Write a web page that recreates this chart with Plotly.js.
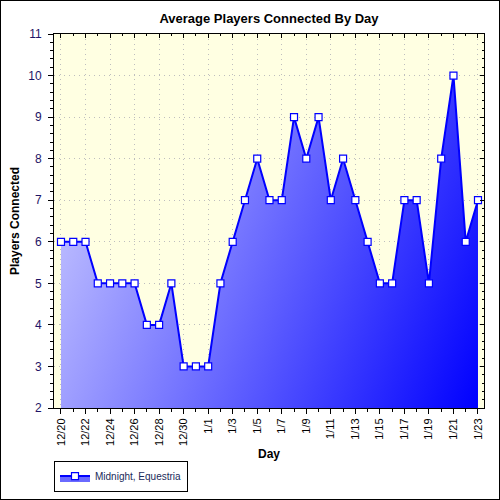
<!DOCTYPE html>
<html>
<head>
<meta charset="utf-8">
<script src="https://cdn.plot.ly/plotly-3.0.1.min.js"></script>
<style>
  body { margin: 0; background: #fff; }
  #chart { width: 498px; height: 498px; border: 1px solid #000; }
</style>
</head>
<body>
<div id="chart"></div>
<script>
// days shown on the x axis
var days = ['12/20','12/21','12/22','12/23','12/24','12/25','12/26','12/27','12/28','12/29','12/30','12/31',
            '1/1','1/2','1/3','1/4','1/5','1/6','1/7','1/8','1/9','1/10','1/11','1/12','1/13','1/14',
            '1/15','1/16','1/17','1/18','1/19','1/20','1/21','1/22','1/23'];
// average players connected each day
var players = [6,6,6,5,5,5,5,4,4,5,3,3,
               3,5,6,7,8,7,7,9,8,9,7,8,7,6,
               5,5,7,7,5,8,10,6,7];
var seriesName = 'Midnight, Equestria';

var idx = days.map(function(d, i) { return i; });
var tickIdx = idx.filter(function(i) { return i % 2 === 0; });
var tickText = tickIdx.map(function(i) { return days[i]; });

var font = 'Liberation Sans, Arial, sans-serif';

var trace = {
  x: idx,
  y: players,
  name: seriesName,
  type: 'scatter',
  mode: 'lines+markers',
  fill: 'tozeroy',
  fillcolor: '#6A6AFF',
  line: {color: '#0000FF', width: 2},
  marker: {symbol: 'square', size: 7, color: '#FFFFFF', line: {color: '#0000FF', width: 1.2}},
  hoverinfo: 'x+y'
};

// ghost trace so the top / right mirror axes get drawn with inside ticks
var ghost = {
  x: idx, y: players, xaxis: 'x2', yaxis: 'y2',
  type: 'scatter', mode: 'lines', opacity: 0, showlegend: false, hoverinfo: 'skip'
};

var layout = {
  width: 498,
  height: 498,
  margin: {l: 53, r: 15, t: 33, b: 91, autoexpand: false},
  paper_bgcolor: '#FFFFFF',
  plot_bgcolor: '#FFFFE2',
  font: {family: font, size: 11, color: '#000'},
  title: {
    text: '<b>Average Players Connected By Day</b>',
    font: {family: font, size: 13, color: '#000'},
    x: 0.5, xref: 'paper', xanchor: 'center',
    y: 0.965, yanchor: 'middle'
  },
  xaxis: {
    range: [-0.57, 34.49],
    tickvals: tickIdx,
    ticktext: tickText,
    tickangle: -90,
    ticks: 'outside', ticklen: 5, tickcolor: '#000', tickwidth: 1,
    minor: {dtick: 1, ticks: 'outside', ticklen: 3, tickcolor: '#000', showgrid: false},
    showline: true, linecolor: '#000', linewidth: 1,
    showgrid: true, gridcolor: '#BEBEBE', griddash: '1px,4px', gridwidth: 1,
    zeroline: false, automargin: false,
    tickfont: {family: font, size: 11, color: '#000'},
    title: {text: '<b>Day</b>', font: {family: font, size: 12, color: '#000'}, standoff: 14}
  },
  yaxis: {
    range: [2, 11],
    dtick: 1,
    ticks: 'outside', ticklen: 5, tickcolor: '#000', tickwidth: 1,
    minor: {dtick: 0.2, ticks: 'outside', ticklen: 3, tickcolor: '#000', showgrid: false},
    showline: true, linecolor: '#000', linewidth: 1,
    showgrid: true, gridcolor: '#BEBEBE', griddash: '1px,4px', gridwidth: 1,
    zeroline: false, automargin: false,
    ticklabelstandoff: 4,
    tickfont: {family: font, size: 12, color: '#1E1466'},
    title: {text: '<b>Players Connected</b>', font: {family: font, size: 12, color: '#000'}, standoff: 6}
  },
  xaxis2: {
    overlaying: 'x', side: 'top', matches: 'x', anchor: 'y2',
    tickvals: tickIdx, showticklabels: false,
    ticks: 'inside', ticklen: 4, tickcolor: '#000',
    minor: {dtick: 1, ticks: 'inside', ticklen: 2, tickcolor: '#000'},
    showline: true, linecolor: '#000', linewidth: 1, showgrid: false, zeroline: false
  },
  yaxis2: {
    overlaying: 'y', side: 'right', matches: 'y', anchor: 'x2',
    dtick: 1, showticklabels: false,
    ticks: 'inside', ticklen: 4, tickcolor: '#000',
    minor: {dtick: 0.2, ticks: 'inside', ticklen: 2, tickcolor: '#000'},
    showline: true, linecolor: '#000', linewidth: 1, showgrid: false, zeroline: false
  },
  showlegend: true,
  legend: {
    orientation: 'h',
    x: 0, xanchor: 'left',
    yref: 'container',
    y: 0.015, yanchor: 'bottom',
    bgcolor: '#FFFFFF',
    bordercolor: '#000', borderwidth: 1,
    font: {family: font, size: 10, color: '#1A2A5A'},
    itemwidth: 30
  }
};

// diagonal gradient on the area fill: light lavender top-left to deep blue bottom-right
function paintFill(gd) {
  var xa = gd._fullLayout.xaxis, ya = gd._fullLayout.yaxis;
  var svg = gd.querySelector('svg.main-svg');
  var defs = svg.querySelector('defs');
  var old = defs.querySelector('#areaGrad');
  if (old) old.remove();
  var ns = 'http://www.w3.org/2000/svg';
  var g = document.createElementNS(ns, 'linearGradient');
  g.setAttribute('id', 'areaGrad');
  g.setAttribute('gradientUnits', 'userSpaceOnUse');
  g.setAttribute('x1', xa.l2p(0));
  g.setAttribute('y1', ya.l2p(6));
  g.setAttribute('x2', xa.l2p(34));
  g.setAttribute('y2', ya.l2p(2));
  [[0, '#B8B8FF'], [1, '#0000FF']].forEach(function(s) {
    var st = document.createElementNS(ns, 'stop');
    st.setAttribute('offset', s[0]);
    st.setAttribute('stop-color', s[1]);
    g.appendChild(st);
  });
  defs.appendChild(g);
  gd.querySelectorAll('.scatterlayer .trace:first-child path.js-fill').forEach(function(p) {
    p.style.fill = 'url(#areaGrad)';
  });
}

Plotly.newPlot('chart', [trace, ghost], layout, {displayModeBar: false, staticPlot: true}).then(function(gd) {
  paintFill(gd);
  gd.on('plotly_afterplot', function() { paintFill(gd); });
});
</script>
</body>
</html>
